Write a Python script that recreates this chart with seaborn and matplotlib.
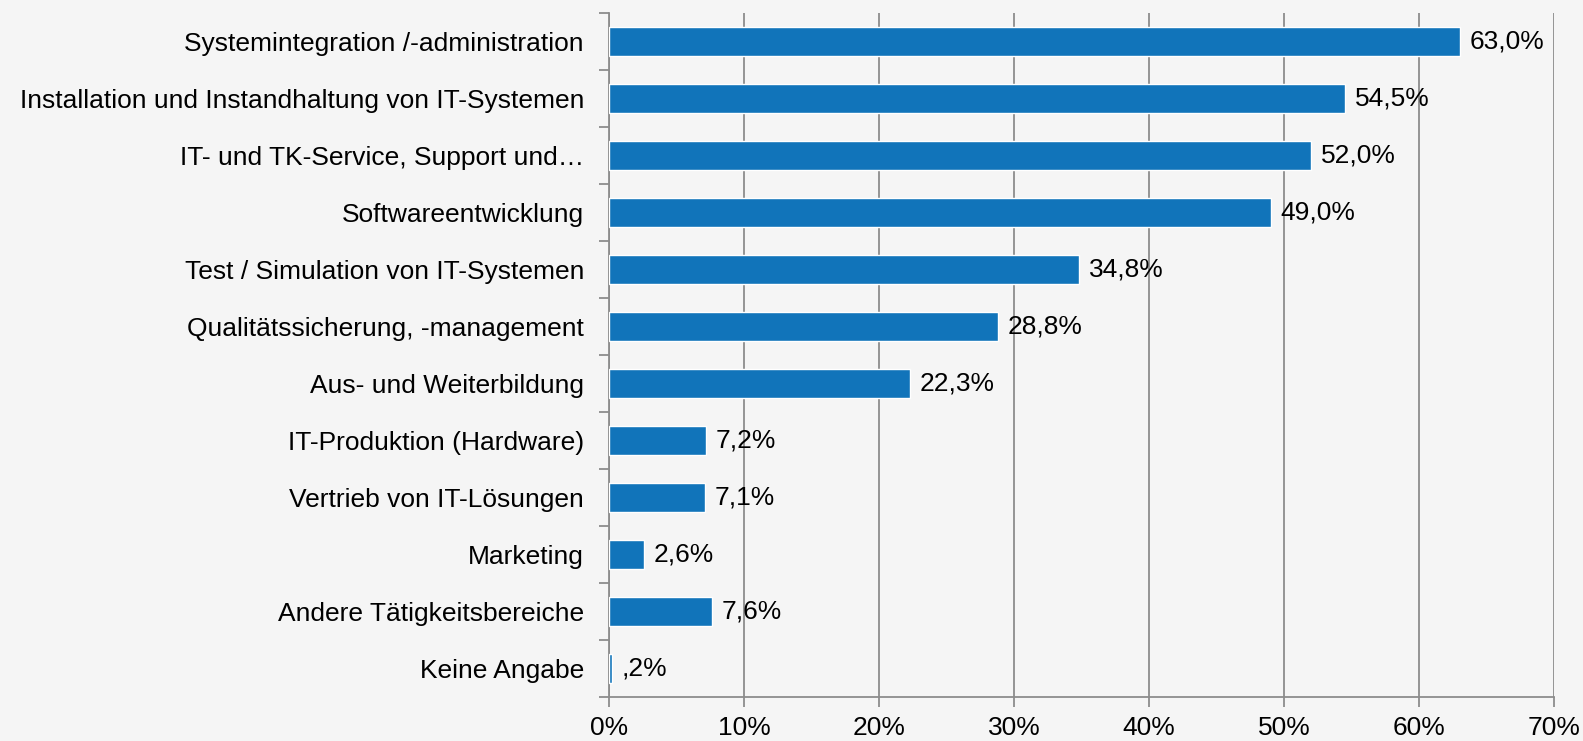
import matplotlib
matplotlib.use('Agg')
import matplotlib.pyplot as plt
import seaborn as sns
import pandas as pd
import numpy as np
from matplotlib.ticker import FixedLocator

# Daten
bereiche = ['Systemintegration /-administration',
            'Installation und Instandhaltung von IT-Systemen',
            'IT- und TK-Service, Support und…',
            'Softwareentwicklung',
            'Test / Simulation von IT-Systemen',
            'Qualitätssicherung, -management',
            'Aus- und Weiterbildung',
            'IT-Produktion (Hardware)',
            'Vertrieb von IT-Lösungen',
            'Marketing',
            'Andere Tätigkeitsbereiche',
            'Keine Angabe']
anteile = [63.0, 54.5, 52.0, 49.0, 34.8, 28.8, 22.3, 7.2, 7.1, 2.6, 7.6, 0.2]
wert_labels = ['63,0%', '54,5%', '52,0%', '49,0%', '34,8%', '28,8%', '22,3%',
               '7,2%', '7,1%', '2,6%', '7,6%', ',2%']
x_ticks = [0, 10, 20, 30, 40, 50, 60, 70]
x_tick_labels = ['0%', '10%', '20%', '30%', '40%', '50%', '60%', '70%']

df = pd.DataFrame({'Bereich': bereiche, 'Anteil': anteile})

sns.set_style('white')
plt.rcParams['font.family'] = ['Liberation Sans', 'DejaVu Sans']
bg = '#f5f5f5'
grau = '#8c8c8c'
fs = 19

fig = plt.figure(figsize=(15.83, 7.41), dpi=100, facecolor=bg)
ax = fig.add_axes([609/1583, 1 - 697/741, (1554 - 609)/1583, (697 - 13)/741])
ax.set_facecolor(bg)

sns.barplot(data=df, x='Anteil', y='Bereich', orient='h', color='#1174ba',
            saturation=1, width=0.5, ax=ax, zorder=3)

ax.bar_label(ax.containers[0], labels=wert_labels, padding=7, fontsize=fs,
             color='black')

ax.set_xlim(0, 70)
ax.set_ylim(len(bereiche) - 0.5, -0.5)
ax.set_xticks(x_ticks)
ax.set_xticklabels(x_tick_labels, fontsize=fs)
ax.xaxis.grid(True, color=grau, linewidth=1.3, zorder=0)
ax.set_axisbelow(True)
ax.tick_params(axis='x', bottom=True, direction='out', length=7, width=1.3,
               color=grau, pad=7, labelcolor='black')
ax.tick_params(axis='y', which='major', left=True, length=0, pad=18,
               labelsize=fs, labelcolor='black')
ax.yaxis.set_minor_locator(FixedLocator(np.arange(-0.5, len(bereiche), 1)))
ax.tick_params(axis='y', which='minor', left=True, direction='out', length=7,
               width=1.3, color=grau)
ax.set_xlabel('')
ax.set_ylabel('')

for s in ['top', 'right']:
    ax.spines[s].set_visible(False)
for s in ['left', 'bottom']:
    ax.spines[s].set_color(grau)
    ax.spines[s].set_linewidth(1.3)

fig.savefig('out.png', dpi=100, facecolor=bg)
